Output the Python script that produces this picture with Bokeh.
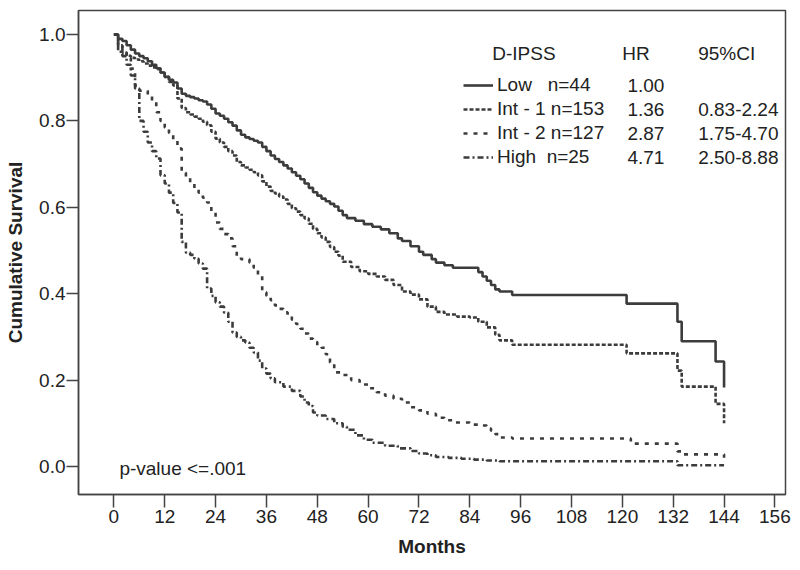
from bokeh.plotting import figure
from bokeh.models import Range1d, Legend, LegendItem, Label, FixedTicker, PrintfTickFormatter, ColumnDataSource
from bokeh.core.properties import value
from bokeh.embed import file_html
from bokeh.resources import INLINE

# ---------------- data ----------------
low_t = [0, 1, 2, 3, 4, 5, 6, 7, 8, 9, 10, 11, 12, 13, 14, 15, 16, 17, 18, 19, 20,
         21, 22, 23, 24, 25, 26, 27, 28, 29, 30, 31, 32, 33, 34, 35, 36, 37, 38, 39, 40,
         41, 42, 43, 44, 45, 46, 47, 48, 49, 50, 51, 52, 53, 54, 55, 57, 59, 61, 63, 65,
         67, 68, 70, 72, 73, 75, 76, 78, 80, 86, 87, 88, 89, 90, 91, 94, 121, 133, 134, 142, 144]
low_s = [1.0, 0.99, 0.985, 0.975, 0.965, 0.956, 0.95, 0.945, 0.938, 0.93, 0.922,
         0.912, 0.902, 0.895, 0.889, 0.875, 0.863, 0.858, 0.855, 0.852, 0.848,
         0.845, 0.838, 0.828, 0.817, 0.812, 0.805, 0.797, 0.789, 0.778, 0.768,
         0.762, 0.758, 0.754, 0.75, 0.74, 0.73, 0.72, 0.712, 0.705, 0.697,
         0.69, 0.681, 0.673, 0.665, 0.655, 0.645, 0.635, 0.627, 0.62, 0.614,
         0.608, 0.602, 0.592, 0.582, 0.575, 0.569, 0.561, 0.555, 0.549, 0.54,
         0.528, 0.522, 0.51, 0.497, 0.49, 0.48, 0.472, 0.466, 0.46, 0.45, 0.44, 0.43,
         0.42, 0.41, 0.405, 0.397, 0.377, 0.335, 0.29, 0.243, 0.183]

int1_t = [0, 1, 2, 3, 4, 5, 6, 7, 8, 9, 10, 11, 12, 13, 14, 15, 16, 17, 18, 19, 20,
          21, 22, 23, 24, 25, 26, 27, 28, 29, 30, 31, 32, 33, 34, 35, 36, 37, 38, 39, 40,
          41, 42, 43, 44, 45, 46, 47, 48, 49, 50, 51, 52, 53, 54, 56, 58, 60, 62, 64,
          66, 68, 70, 72, 74, 76, 78, 81, 84, 86, 88, 90, 91, 94, 121, 133, 134, 142, 144]
int1_s = [1.0, 0.975, 0.958, 0.951, 0.946, 0.942, 0.938, 0.933, 0.928, 0.924, 0.92,
          0.912, 0.902, 0.89, 0.882, 0.852, 0.83, 0.82, 0.815, 0.81, 0.805,
          0.798, 0.79, 0.775, 0.759, 0.75, 0.74, 0.73, 0.72, 0.705, 0.697,
          0.692, 0.687, 0.681, 0.674, 0.66, 0.648, 0.638, 0.632, 0.625, 0.618,
          0.608, 0.598, 0.59, 0.582, 0.574, 0.562, 0.55, 0.54, 0.53, 0.52,
          0.508, 0.497, 0.488, 0.474, 0.462, 0.452, 0.446, 0.44, 0.432,
          0.42, 0.405, 0.398, 0.387, 0.37, 0.358, 0.352, 0.347, 0.345, 0.335, 0.322,
          0.305, 0.292, 0.282, 0.262, 0.222, 0.185, 0.145, 0.1]

int2_t = [0, 1, 2, 3, 4, 5, 6, 8, 9, 10, 11, 12, 13, 14, 15, 16, 17, 18, 19, 20,
          21, 22, 23, 24, 25, 26, 27, 28, 29, 30, 32, 33, 34, 35, 36, 37, 38, 39, 40,
          41, 42, 43, 44, 45, 46, 47, 48, 49, 50, 51, 52, 54, 56, 58, 60, 62, 64, 66,
          68, 70, 72, 74, 76, 78, 80, 84, 86, 88, 89, 90, 91, 94, 122, 133, 134, 144]
int2_s = [1.0, 0.975, 0.963, 0.945, 0.921, 0.882, 0.87, 0.858, 0.845, 0.82, 0.8,
          0.785, 0.772, 0.755, 0.736, 0.68, 0.668, 0.655, 0.643, 0.634,
          0.622, 0.611, 0.59, 0.565, 0.55, 0.538, 0.528, 0.51, 0.488, 0.48,
          0.472, 0.46, 0.442, 0.403, 0.395, 0.385, 0.373, 0.365, 0.357,
          0.35, 0.34, 0.33, 0.319, 0.308, 0.296, 0.288, 0.28, 0.275, 0.26,
          0.241, 0.218, 0.212, 0.2, 0.19, 0.181, 0.172, 0.164, 0.157,
          0.148, 0.137, 0.13, 0.122, 0.113, 0.107, 0.102, 0.097, 0.095, 0.088,
          0.083, 0.075, 0.067, 0.065, 0.053, 0.035, 0.028, 0.02]

high_t = [0, 1, 2, 3, 4, 5, 6, 7, 8, 9, 10, 11, 12, 13, 14, 15, 16, 17, 18, 19, 20,
          21, 22, 23, 24, 25, 26, 27, 28, 29, 30, 31, 32, 33, 34, 35, 36, 37, 38,
          40, 42, 44, 45, 46, 47, 48, 50, 52, 54, 55, 57, 59, 61, 64, 67, 70, 72,
          74, 76, 79, 82, 85, 88, 91, 94, 133, 144]
high_s = [1.0, 0.96, 0.95, 0.93, 0.905, 0.875, 0.8, 0.775, 0.75, 0.73, 0.713,
          0.674, 0.655, 0.634, 0.61, 0.588, 0.52, 0.495, 0.49, 0.481, 0.47,
          0.458, 0.412, 0.395, 0.38, 0.37, 0.356, 0.335, 0.31, 0.3, 0.292,
          0.287, 0.275, 0.264, 0.245, 0.227, 0.215, 0.204, 0.195,
          0.185, 0.175, 0.162, 0.148, 0.14, 0.125, 0.118, 0.11, 0.1, 0.092, 0.085,
          0.072, 0.062, 0.055, 0.048, 0.042, 0.036, 0.03,
          0.026, 0.022, 0.02, 0.018, 0.016, 0.014, 0.012, 0.012, 0.003, 0.003]

groups = ["Low\u00a0\u00a0\u00a0n=44", "Int - 1 n=153", "Int - 2 n=127", "High\u00a0\u00a0n=25"]
hr_values = ["1.00", "1.36", "2.87", "4.71"]
ci_values = ["", "0.83-2.24", "1.75-4.70", "2.50-8.88"]
header_labels = ["D-IPSS", "HR", "95%CI"]
x_ticks = list(range(0, 157, 12))
y_ticks = [0.0, 0.2, 0.4, 0.6, 0.8, 1.0]

for a, b in [(low_t, low_s), (int1_t, int1_s), (int2_t, int2_s), (high_t, high_s)]:
    assert len(a) == len(b), (len(a), len(b))

# ---------------- figure ----------------
FONT = "Liberation Sans"
INK = "#222222"
LINE = "#3c3c3c"

p = figure(frame_width=707, frame_height=484,
           x_range=Range1d(-8.35, 158.5), y_range=Range1d(-0.0648, 1.0556),
           output_backend="svg", toolbar_location=None,
           min_border_left=78, min_border_right=13, min_border_top=10, min_border_bottom=74)
p.background_fill_color = "white"
p.border_fill_color = "white"
p.grid.visible = False
p.outline_line_color = "#444444"
p.outline_line_width = 1.5

for ax in (p.xaxis[0], p.yaxis[0]):
    ax.axis_line_color = "#444444"
    ax.axis_line_width = 1.5
    ax.major_tick_line_color = "#444444"
    ax.major_tick_line_width = 1.5
    ax.major_tick_in = 0
    ax.minor_tick_line_color = None
    ax.major_label_text_font = FONT
    ax.major_label_text_font_size = "19px"
    ax.major_label_text_color = INK
    ax.axis_label_text_font = FONT
    ax.axis_label_text_font_size = "19px"
    ax.axis_label_text_font_style = "bold"
    ax.axis_label_text_color = INK

p.xaxis.ticker = FixedTicker(ticks=x_ticks)
p.xaxis.major_tick_out = 13
p.xaxis.major_label_standoff = 2
p.xaxis.axis_label = "Months"
p.xaxis.axis_label_standoff = 10

p.yaxis.ticker = FixedTicker(ticks=y_ticks)
p.yaxis.formatter = PrintfTickFormatter(format="%.1f")
p.yaxis.major_tick_out = 12
p.yaxis.major_label_standoff = 1
p.yaxis.axis_label = "Cumulative Survival"
p.yaxis.axis_label_standoff = 10

r_low = p.step(low_t, low_s, mode="after", line_color=LINE, line_width=2.6)
r_i1 = p.step(int1_t, int1_s, mode="after", line_color=LINE, line_width=2.6, line_dash="4 2")
r_i2 = p.step(int2_t, int2_s, mode="after", line_color=LINE, line_width=2.6, line_dash="4 6")
r_hi = p.step(high_t, high_s, mode="after", line_color=LINE, line_width=2.6, line_dash="6 3 2 3")

legend = Legend(items=[LegendItem(label=g, renderers=[r]) for g, r in zip(groups, [r_low, r_i1, r_i2, r_hi])],
                location=(385, 325), padding=0, margin=0, spacing=0,
                glyph_width=30, glyph_height=24, label_height=24, label_standoff=4,
                border_line_alpha=0, background_fill_alpha=0,
                label_text_font=FONT, label_text_font_size="19px", label_text_color=INK)
p.add_layout(legend)

# table text (header + HR + CI columns)
row_y = [0.882, 0.826, 0.770, 0.715]
hdr = ColumnDataSource(dict(x=[89.3, 120.0, 137.9], y=[0.957] * 3, t=header_labels))
p.text("x", "y", text="t", source=hdr, text_font=value(FONT), text_font_size="19px",
       text_color=INK, text_baseline="middle", text_align="left")
hr = ColumnDataSource(dict(x=[121.2] * 4, y=row_y, t=hr_values))
p.text("x", "y", text="t", source=hr, text_font=value(FONT), text_font_size="19px",
       text_color=INK, text_baseline="middle", text_align="left")
ci = ColumnDataSource(dict(x=[137.9] * 4, y=row_y, t=ci_values))
p.text("x", "y", text="t", source=ci, text_font=value(FONT), text_font_size="19px",
       text_color=INK, text_baseline="middle", text_align="left")

p.add_layout(Label(x=1.3, y=-0.005, text="p-value <=.001", text_font=FONT, text_font_size="19px",
                   text_color=INK, text_baseline="middle"))

open("out.html", "w").write(file_html(p, INLINE))
